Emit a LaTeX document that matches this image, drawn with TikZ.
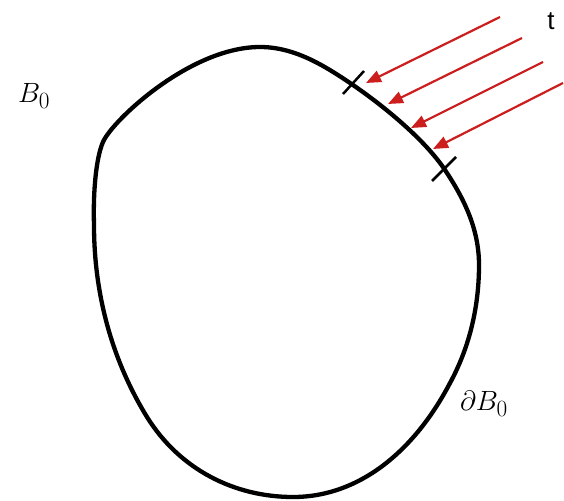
\documentclass[tikz,border=0pt]{standalone}
\usepackage{fontspec}
\usetikzlibrary{arrows.meta}
\newfontfamily\tfont{Liberation Sans}
\definecolor{tred}{RGB}{205,30,30}
\tikzset{
  boundary/.style={line width=4.3pt, line join=round},
  tickmark/.style={line width=2.5pt},
  traction/.style={tred, line width=2.2pt, -{Triangle[length=15pt,width=12pt]}},
  lbl/.style={inner sep=0pt, scale=1.12, font=\fontsize{24.88}{30}\selectfont}
}
\begin{document}
\begin{tikzpicture}[x=1pt,y=-1pt]
\useasboundingbox (0,0) rectangle (564,500);
\fill[white] (0,0) rectangle (564,500);
\coordinate (top) at (260,47);
\coordinate (g1) at (353,85);
\coordinate (g2) at (445,170);
\coordinate (r) at (479,265);
\coordinate (rl) at (450,383);
\coordinate (bot) at (293,497);
\coordinate (bl) at (147,417);
\coordinate (l) at (94,225);
\coordinate (ul) at (103,142);
\draw[boundary] (top) .. controls (295,47) and (325,66) .. (g1)
  .. controls (385,107) and (425,140) .. (g2)
  .. controls (465,200) and (479,230) .. (r)
  .. controls (479,310) and (468,350) .. (rl)
  .. controls (415,450) and (360,497) .. (bot)
  .. controls (235,497) and (180,470) .. (bl)
  .. controls (115,365) and (94,300) .. (l)
  .. controls (93,192) and (96,158) .. (ul)
  .. controls (112,121) and (190,47) .. (top) -- cycle;
% tick marks
\coordinate (t1a) at (343,94); \coordinate (t1b) at (364,71);
\coordinate (t2a) at (432,181); \coordinate (t2b) at (456,157);
\draw[tickmark] (t1a) -- (t1b);
\draw[tickmark] (t2a) -- (t2b);
% traction arrows
\coordinate (a1s) at (500,17); \coordinate (a1e) at (366,83);
\coordinate (a2s) at (522,38); \coordinate (a2e) at (388,104);
\coordinate (a3s) at (543,62); \coordinate (a3e) at (411,128);
\coordinate (a4s) at (563,83); \coordinate (a4e) at (433,149);
\draw[traction] (a1s) -- (a1e);
\draw[traction] (a2s) -- (a2e);
\draw[traction] (a3s) -- (a3e);
\draw[traction] (a4s) -- (a4e);
% labels
\node[lbl] (B0) at (34,96) {$B_0$};
\node[lbl] (Gam) at (371,132) {$\mathit{\Gamma}$};
\node[lbl] (dB0) at (484,404) {$\partial B_0$};
\node[inner sep=0pt, font=\fontsize{26}{30}\selectfont\tfont] (t) at (551,21) {t};
\end{tikzpicture}
\end{document}
